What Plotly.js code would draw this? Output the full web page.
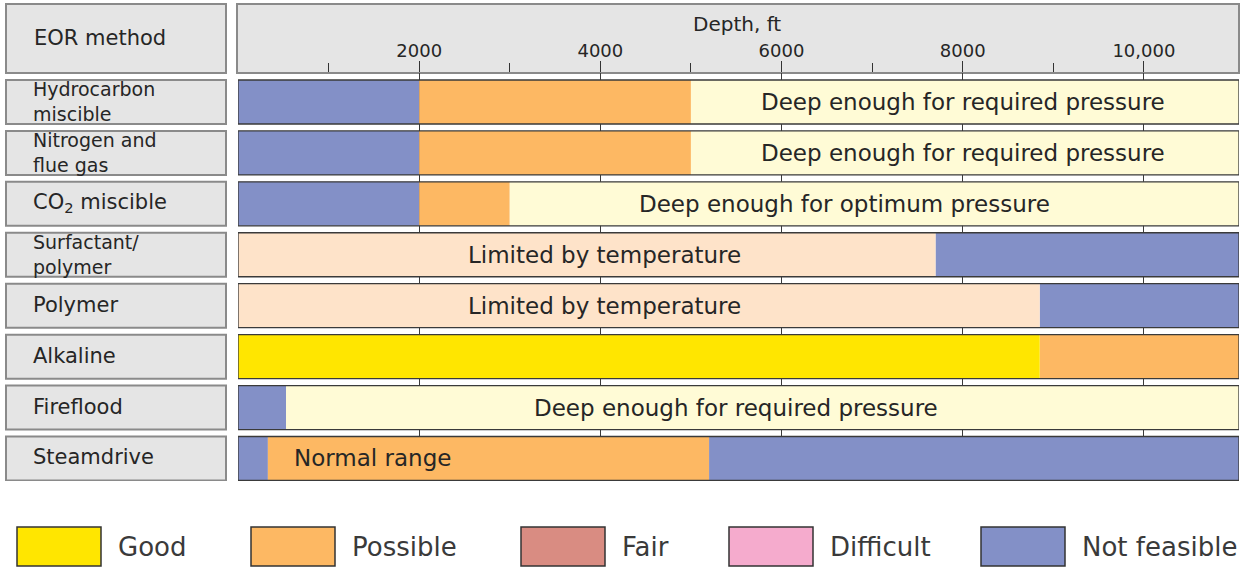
<!DOCTYPE html>
<html>
<head>
<meta charset="utf-8">
<script src="https://cdn.plot.ly/plotly-3.0.1.min.js"></script>
<style>html,body{margin:0;padding:0;background:#fff;}#chart{width:1249px;height:569px;}</style>
</head>
<body>
<div id="chart"></div>
<script>
// ---------------- data ----------------
const methodLabels = [
  'Hydrocarbon<br>miscible',
  'Nitrogen and<br>flue gas',
  'CO<sub>2</sub> miscible',
  'Surfactant/<br>polymer',
  'Polymer',
  'Alkaline',
  'Fireflood',
  'Steamdrive'
];
const depthMax = 11050;
// segment boundaries (ft) per method
const bounds = [
  [0, 2000, 5000, depthMax],
  [0, 2000, 5000, depthMax],
  [0, 2000, 3000, depthMax],
  [0, 7700, depthMax],
  [0, 8850, depthMax],
  [0, 8850, depthMax],
  [0, 530, depthMax],
  [0, 330, 5200, depthMax]
];
// rating of each segment
const ratings = [
  ['Not feasible', 'Possible', 'Deep enough'],
  ['Not feasible', 'Possible', 'Deep enough'],
  ['Not feasible', 'Possible', 'Deep enough'],
  ['Limited', 'Not feasible'],
  ['Limited', 'Not feasible'],
  ['Good', 'Possible'],
  ['Not feasible', 'Deep enough'],
  ['Not feasible', 'Possible', 'Not feasible']
];
const noteRow = [0, 1, 2, 3, 4, 6, 7];
const noteText = [
  'Deep enough for required pressure',
  'Deep enough for required pressure',
  'Deep enough for optimum pressure',
  'Limited by temperature',
  'Limited by temperature',
  'Deep enough for required pressure',
  'Normal range'
];
const noteDepth = [8000, 8000, 6700, 4050, 4050, 5500, 1480];
const majorTicks = [2000, 4000, 6000, 8000, 10000];
const majorLabels = ['2000', '4000', '6000', '8000', '10,000'];
const minorTicks = [1000, 3000, 5000, 7000, 9000];
const legendNames = ['Good', 'Possible', 'Fair', 'Difficult', 'Not feasible'];

// ---------------- styles ----------------
const colors = {
  'Good': '#ffe600',
  'Possible': '#fdb863',
  'Fair': '#d98c82',
  'Difficult': '#f5abcd',
  'Not feasible': '#8390c7',
  'Deep enough': '#fffbd6',
  'Limited': '#fee3c9'
};
const FONT = 'DejaVu Sans, Arial, sans-serif';
const TXT = '#262626';
const W = 1249, H = 569;
const L = 238, R = 1239, T = 73, B = 481;
const px = X => (X - L) / (R - L);
const py = Y => (B - Y) / (B - T);
const barW = 0.864;
const legendX = [17, 251, 521, 729, 981];

// ---------------- traces ----------------
const classes = ['Not feasible', 'Possible', 'Good', 'Deep enough', 'Limited'];
const traces = classes.map(cls => {
  const y = [], x = [], base = [];
  ratings.forEach((row, i) => {
    row.forEach((r, j) => {
      if (r === cls) {
        y.push(i);
        base.push(bounds[i][j]);
        x.push(bounds[i][j + 1] - bounds[i][j]);
      }
    });
  });
  return {
    type: 'bar', orientation: 'h', name: cls, y: y, x: x, base: base,
    width: barW, marker: {color: colors[cls], line: {width: 0}},
    showlegend: false, hovertemplate: cls + ': %{base} – %{x}<extra></extra>'
  };
});

// ---------------- shapes & annotations ----------------
const shapes = [];
const annotations = [];
const boxFill = '#e5e5e5', boxLine = '#8a8a8a';

// header boxes
shapes.push({type: 'rect', xref: 'paper', yref: 'paper', x0: px(6), x1: px(226), y0: py(73), y1: py(4),
  fillcolor: boxFill, line: {color: boxLine, width: 2}, layer: 'below'});
shapes.push({type: 'rect', xref: 'paper', yref: 'paper', x0: px(237), x1: px(1239), y0: py(73), y1: py(4),
  fillcolor: boxFill, line: {color: boxLine, width: 2}, layer: 'below'});
annotations.push({xref: 'paper', yref: 'paper', x: px(32), y: py(38), xanchor: 'left', yanchor: 'middle',
  text: 'EOR method', showarrow: false, font: {family: FONT, size: 21, color: TXT}});
annotations.push({xref: 'paper', yref: 'paper', x: px(737), y: py(24), xanchor: 'center', yanchor: 'middle',
  text: 'Depth, ft', showarrow: false, font: {family: FONT, size: 20, color: TXT}});

// method label boxes and bar outlines
methodLabels.forEach((lab, i) => {
  shapes.push({type: 'rect', xref: 'paper', yref: 'y', x0: px(6), x1: px(226), y0: i - barW / 2, y1: i + barW / 2,
    fillcolor: boxFill, line: {color: boxLine, width: 2}, layer: 'below'});
  shapes.push({type: 'rect', xref: 'x', yref: 'y', x0: 0, x1: depthMax, y0: i - barW / 2, y1: i + barW / 2,
    fillcolor: 'rgba(0,0,0,0)', line: {color: '#3a3a3a', width: 1.3}, layer: 'above'});
  const twoLine = lab.indexOf('<br>') >= 0;
  annotations.push({xref: 'paper', yref: 'y', x: px(32), y: i, yshift: twoLine ? 0 : 1,
    xanchor: 'left', yanchor: 'middle', align: 'left', borderpad: 0,
    text: lab, showarrow: false, font: {family: FONT, size: twoLine ? 19 : 21, color: TXT}});
});

// notes inside bars
noteRow.forEach((r, k) => {
  annotations.push({xref: 'x', yref: 'y', x: noteDepth[k], y: r, xanchor: 'center', yanchor: 'middle',
    text: noteText[k], showarrow: false, font: {family: FONT, size: 23, color: TXT}});
});

// legend
legendNames.forEach((name, k) => {
  const x0 = legendX[k];
  shapes.push({type: 'rect', xref: 'paper', yref: 'paper', x0: px(x0), x1: px(x0 + 84), y0: py(566), y1: py(527),
    fillcolor: colors[name], line: {color: '#333', width: 1.5}, layer: 'below'});
  annotations.push({xref: 'paper', yref: 'paper', x: px(x0 + 84 + 15), y: py(546.5), xanchor: 'left', yanchor: 'middle',
    text: name, showarrow: false, font: {family: FONT, size: 26, color: '#3a3a3a'}});
});

const layout = {
  width: W, height: H,
  margin: {l: L, r: W - R, t: T, b: H - B, pad: 0},
  paper_bgcolor: '#ffffff', plot_bgcolor: '#ffffff',
  barmode: 'overlay',
  showlegend: false,
  xaxis: {
    range: [0, depthMax], side: 'top', tickmode: 'array', tickvals: majorTicks, ticktext: majorLabels,
    ticks: 'outside', ticklen: 11, tickwidth: 1, tickcolor: '#333',
    showgrid: true, gridcolor: '#3a3a3a', gridwidth: 1, zeroline: false, showline: false,
    tickfont: {family: FONT, size: 18, color: TXT},
    ticklabelstandoff: -3,
    minor: {tickmode: 'array', tickvals: minorTicks, ticks: 'outside', ticklen: 9, tickwidth: 1, tickcolor: '#333', showgrid: false},
    fixedrange: true
  },
  yaxis: {
    range: [7.442, -0.569], showticklabels: false, showgrid: false, zeroline: false, showline: false,
    ticks: '', fixedrange: true
  },
  shapes: shapes,
  annotations: annotations
};

Plotly.newPlot('chart', traces, layout, {displayModeBar: false, staticPlot: true});
</script>
</body>
</html>
